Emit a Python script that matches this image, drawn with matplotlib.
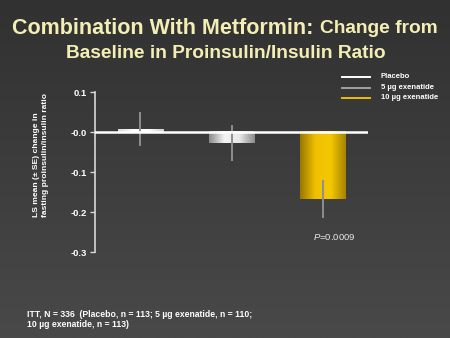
import numpy as np
import matplotlib
matplotlib.use("Agg")
from matplotlib import pyplot as plt

# data
groups = ["Placebo", "5 \u00b5g exenatide", "10 \u00b5g exenatide"]
means = [0.007, -0.028, -0.168]
errors = [0.043, 0.045, 0.048]
yticks = [0.1, 0.0, -0.1, -0.2, -0.3]
ytick_labels = ["0.1", "-0.0", "-0.1", "-0.2", "-0.3"]

plt.rcParams['font.family'] = ['Liberation Sans', 'DejaVu Sans']
plt.rcParams['mathtext.fontset'] = 'custom'
plt.rcParams['mathtext.it'] = 'Liberation Sans:italic'
plt.rcParams['mathtext.rm'] = 'Liberation Sans'

fig = plt.figure(figsize=(4.5, 3.38), dpi=100)

# dark gradient background
bg = fig.add_axes([0, 0, 1, 1])
grad = np.linspace(0, 1, 256).reshape(-1, 1)
bg.imshow(grad, aspect='auto', cmap=matplotlib.colors.LinearSegmentedColormap.from_list(
    'bg', ['#313131', '#494949']), extent=(0, 1, 0, 1), origin='upper')
bg.set_xlim(0, 1)
bg.set_ylim(0, 1)
bg.axis('off')

ax = fig.add_axes([0.211, 0.2544, 0.607, 0.4734])
ax.patch.set_alpha(0)

x = np.arange(len(groups))
width = 0.5

# cylinder-like shading for each bar
shades = [
    ['#d8d8d8', '#ffffff', '#ffffff', '#d0d0d0'],
    ['#8c8c8c', '#f4f4f4', '#e8e8e8', '#8c8c8c'],
    ['#9a7800', '#f0c000', '#f4c800', '#a88400'],
]
for i in range(len(groups)):
    cmap = matplotlib.colors.LinearSegmentedColormap.from_list('b%d' % i, shades[i])
    row = np.linspace(0, 1, 64).reshape(1, -1)
    ax.imshow(row, cmap=cmap, aspect='auto', interpolation='bilinear',
              extent=(x[i] - width / 2, x[i] + width / 2, min(0, means[i]), max(0, means[i])),
              zorder=2)

ax.errorbar(x, means, yerr=errors, fmt='none', ecolor='#8e8e8e', elinewidth=1.4,
            capsize=0, zorder=3)

ax.axhline(0, color='white', lw=1.8, zorder=4)

ax.set_xlim(-0.5, 2.5)
ax.set_ylim(-0.3, 0.1)
ax.set_xticks([])
ax.set_yticks(yticks)
ax.set_yticklabels(ytick_labels, fontsize=6.8, fontweight='bold', color='white')
ax.tick_params(axis='y', colors='#d8d8d8', length=3.5, width=1, pad=2, labelcolor='white')
for s in ['top', 'right', 'bottom']:
    ax.spines[s].set_visible(False)
ax.spines['left'].set_color('#d8d8d8')
ax.spines['left'].set_linewidth(1.2)

# y label, lines aligned at the bottom like the original slide
fig.text(0.091, 0.358, "LS mean (\u00b1 SE) change in\nfasting proinsulin/insulin ratio",
         rotation=90, fontsize=6.1, fontweight='bold', color='white', ha='center',
         va='bottom', multialignment='left', linespacing=1.5)

ax.text(x[2] + 0.13, -0.263, "$\\mathit{P}$=0.0009", ha='center', va='center', fontsize=6.8,
        color='#e8e8e8')

# legend drawn manually on the figure
leg_colors = ['#ffffff', '#a0a0a0', '#f0c000']
leg_y = [0.773, 0.741, 0.711]
for c, yy, name in zip(leg_colors, leg_y, groups):
    fig.add_artist(plt.Line2D([0.76, 0.822], [yy, yy], color=c, lw=1.4,
                              transform=fig.transFigure))
    fig.text(0.846, yy, name, fontsize=5.5, fontweight='bold', color='white', va='center')

# title: two sizes on the first line, centred as one piece
title_color = '#f3efb4'
tA = fig.text(0, 0.917, "Combination With Metformin: ", fontsize=15.5, fontweight='bold',
              color=title_color, ha='left', va='center')
tB = fig.text(0, 0.917, "Change from", fontsize=13.8, fontweight='bold',
              color=title_color, ha='left', va='center')
fig.canvas.draw()
r = fig.canvas.get_renderer()
wA = tA.get_window_extent(r).width / fig.bbox.width
wB = tB.get_window_extent(r).width / fig.bbox.width
x0 = 0.5 - (wA + wB) / 2
tA.set_x(x0)
tB.set_x(x0 + wA)
fig.text(0.501, 0.843, "Baseline in Proinsulin/Insulin Ratio", fontsize=13.8,
         fontweight='bold', color=title_color, ha='center', va='center')

# footnote
fig.text(0.06, 0.054, "ITT, N = 336  (Placebo, n = 113; 5 \u00b5g exenatide, n = 110;\n"
         "10 \u00b5g exenatide, n = 113)", fontsize=6.2, fontweight='bold', color='white',
         va='center', ha='left', linespacing=1.2)

fig.savefig("out.png", dpi=100)
